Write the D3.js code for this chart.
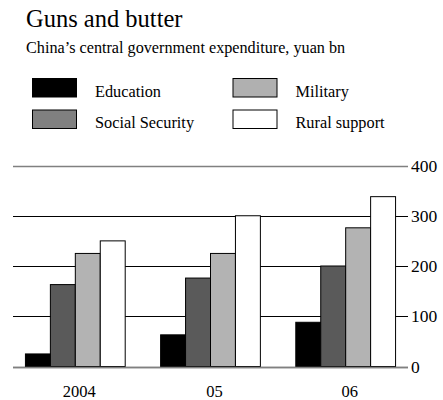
<!DOCTYPE html>
<html><head><meta charset="utf-8">
<script src="https://cdn.jsdelivr.net/npm/d3@7"></script>
<style>body{margin:0;background:#fff}svg{display:block}text{font-family:"Liberation Serif","Times New Roman",serif;fill:#000}</style>
</head><body><svg id="c" width="443" height="400"></svg>
<script>
const years = ["2004", "05", "06"];
const seriesNames = ["Education", "Social Security", "Military", "Rural support"];
const education = [25, 63, 88];
const socialSecurity = [163, 176, 200];
const military = [225, 225, 276];
const rural = [250, 300, 338];
const yTicks = [0, 100, 200, 300, 400];
const barColors = ["#000000", "#5a5a5a", "#b3b3b3", "#ffffff"];
const legendColors = ["#000000", "#808080", "#b0b0b0", "#ffffff"];

const series = [education, socialSecurity, military, rural];
const svg = d3.select("#c");

svg.append("text").attr("x", 26).attr("y", 27).attr("font-size", 24.5).text("Guns and butter");
svg.append("text").attr("x", 26).attr("y", 53).attr("font-size", 16.2).text("China\u2019s central government expenditure, yuan bn");

// legend
const legPos = [[32, 78], [32, 109.5], [232.5, 78], [232.5, 109.5]];
seriesNames.forEach((n, i) => {
  const g = svg.append("g").attr("transform", `translate(${legPos[i][0]},${legPos[i][1]})`);
  g.append("rect").attr("x", 0.5).attr("y", 0.5).attr("width", 44).attr("height", 18.5)
    .attr("fill", legendColors[i]).attr("stroke", "#000").attr("stroke-width", 1);
  g.append("text").attr("x", 63).attr("y", 18.5).attr("font-size", 16.3).text(n);
});

const x0 = d3.scaleBand().domain(years).range([13, 408]).paddingInner(0.262).paddingOuter(0.092);
const x1 = d3.scaleBand().domain(d3.range(4)).range([0, x0.bandwidth()]);
const y = d3.scaleLinear().domain([0, 400]).range([366.5, 165.5]);

// gridlines
svg.append("g").selectAll("line").data(yTicks).join("line")
  .attr("x1", 13).attr("x2", 408)
  .attr("y1", d => Math.round(y(d)) + 0.5).attr("y2", d => Math.round(y(d)) + 0.5)
  .attr("stroke", d => (d === 0 || d === 400) ? "#808080" : "#000")
  .attr("stroke-width", d => (d === 0 || d === 400) ? 1.5 : 1);

// right axis labels
svg.append("g").selectAll("text").data(yTicks).join("text")
  .attr("x", 411).attr("y", d => y(d)).attr("dy", "0.35em").attr("font-size", 17.5).text(d => d);

// bars
years.forEach((yr, gi) => {
  series.forEach((s, si) => {
    const v = s[gi];
    svg.append("rect")
      .attr("x", x0(yr) + x1(si))
      .attr("y", y(v))
      .attr("width", x1.bandwidth())
      .attr("height", y(0) - y(v))
      .attr("fill", barColors[si]).attr("stroke", "#000").attr("stroke-width", 1);
  });
});

// baseline redrawn over bars
svg.append("line").attr("x1", 13).attr("x2", 408)
  .attr("y1", Math.round(y(0)) + 0.5).attr("y2", Math.round(y(0)) + 0.5)
  .attr("stroke", "#808080").attr("stroke-width", 1.5);

// x labels
svg.append("g").selectAll("text").data(years).join("text")
  .attr("x", d => x0(d) + x0.bandwidth() / 2 + 4).attr("y", 397)
  .attr("text-anchor", "middle").attr("font-size", 16.5).text(d => d);
</script></body></html>
